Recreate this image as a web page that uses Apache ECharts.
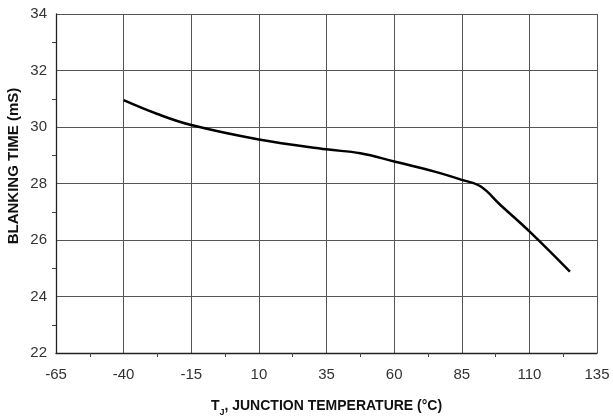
<!DOCTYPE html>
<html><head><meta charset="utf-8">
<script src="https://cdn.jsdelivr.net/npm/echarts@6/dist/echarts.min.js"></script>
<style>html,body{margin:0;padding:0;background:#fff}#c{width:613px;height:419px}</style>
</head><body><div id="c"></div>
<script>
var temps = [-40, -27.5, -15, 10, 35, 47.5, 60, 75, 85, 91.9, 99.3, 110.4, 125];
var blanking = [30.95, 30.46, 30.07, 29.56, 29.21, 29.07, 28.78, 28.42, 28.13, 27.9, 27.24, 26.27, 24.88];
var xTicks = [-65, -40, -15, 10, 35, 60, 85, 110, 135];
var yTicks = [22, 24, 26, 28, 30, 32, 34];
var xTitle = ['T', 'J', ', JUNCTION TEMPERATURE (°C)'];
var yTitle = 'BLANKING TIME (mS)';

var data = temps.map(function (t, i) { return [t, blanking[i]]; });
var chart = echarts.init(document.getElementById('c'), null, {renderer: 'canvas'});
chart.setOption({
  animation: false,
  grid: {left: 56, top: 14, width: 541, height: 339, containLabel: false, outerBoundsMode: 'none'},
  xAxis: {
    type: 'value', min: xTicks[0], max: xTicks[xTicks.length - 1], interval: 25,
    axisLine: {show: true, onZero: false, lineStyle: {color: '#222', width: 1.3}},
    axisTick: {show: false},
    minorTick: {show: true, splitNumber: 2, length: 4, lineStyle: {color: '#444', width: 1}},
    axisLabel: {color: '#333', fontFamily: 'Liberation Sans', fontSize: 15, margin: 14},
    splitLine: {show: true, lineStyle: {color: '#555', width: 1}},
    name: '{t|' + xTitle[0] + '}{s|' + xTitle[1] + '}{t|' + xTitle[2] + '}',
    nameLocation: 'middle', nameGap: 44,
    nameTextStyle: {
      rich: {
        t: {fontFamily: 'Liberation Sans', fontWeight: 'bold', fontSize: 14, color: '#111', lineHeight: 16, verticalAlign: 'bottom'},
        s: {fontFamily: 'Liberation Sans', fontWeight: 'bold', fontSize: 9, color: '#111', lineHeight: 16, verticalAlign: 'bottom', padding: [0, 0, -4, 0]}
      }
    }
  },
  yAxis: {
    type: 'value', min: yTicks[0], max: yTicks[yTicks.length - 1], interval: 2,
    axisLine: {show: true, onZero: false, lineStyle: {color: '#222', width: 1.3}},
    axisTick: {show: false},
    minorTick: {show: true, splitNumber: 2, length: 4, lineStyle: {color: '#444', width: 1}},
    axisLabel: {color: '#333', fontFamily: 'Liberation Sans', fontSize: 15, margin: 9},
    splitLine: {show: true, lineStyle: {color: '#555', width: 1}}
  },
  graphic: [{
    type: 'text', x: 14, y: 166, rotation: Math.PI / 2,
    style: {text: yTitle, fontFamily: 'Liberation Sans', fontWeight: 'bold', fontSize: 15, fill: '#111', align: 'center', verticalAlign: 'middle'}
  }],
  series: [{
    type: 'line', data: data, smooth: 0.4, showSymbol: false,
    lineStyle: {color: '#000', width: 2.5}
  }]
});
</script></body></html>
